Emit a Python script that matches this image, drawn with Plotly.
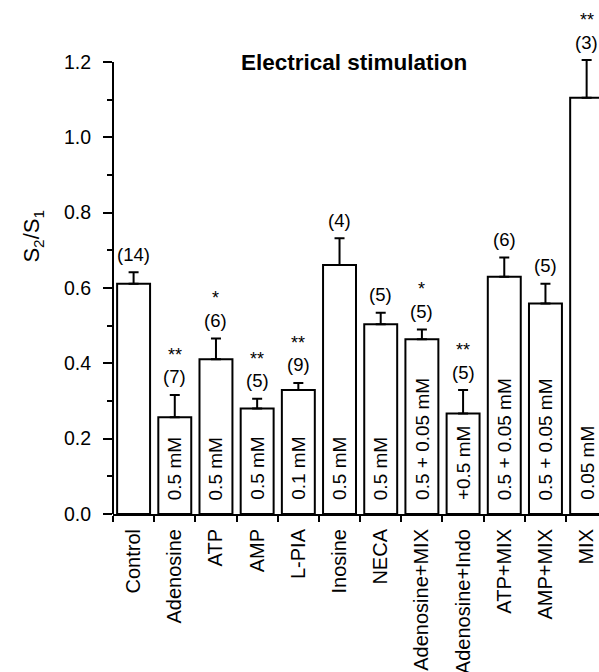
import plotly.graph_objects as go

categories = ["Control", "Adenosine", "ATP", "AMP", "L-PIA", "Inosine", "NECA",
              "Adenosine+MIX", "Adenosine+Indo", "ATP+MIX", "AMP+MIX", "MIX"]
means = [0.611, 0.257, 0.411, 0.280, 0.329, 0.661, 0.504, 0.464, 0.267, 0.630, 0.559, 1.105]
sems = [0.031, 0.059, 0.055, 0.026, 0.019, 0.071, 0.030, 0.026, 0.062, 0.051, 0.052, 0.100]
n_counts = [14, 7, 6, 5, 9, 4, 5, 5, 5, 6, 5, 3]
stars = ["", "**", "*", "**", "**", "", "", "*", "**", "", "", "**"]
doses = ["", "0.5 mM", "0.5 mM", "0.5 mM", "0.1 mM", "0.5 mM", "0.5 mM",
         "0.5 + 0.05 mM", "+0.5 mM", "0.5 + 0.05 mM", "0.5 + 0.05 mM", "0.05 mM"]

FONT = "Liberation Sans, Arial, Helvetica, sans-serif"

fig = go.Figure()
fig.add_trace(go.Bar(
    x=categories, y=means, width=0.8,
    marker=dict(color="white", line=dict(color="black", width=2)),
    error_y=dict(type="data", array=sems, arrayminus=[0] * len(sems), symmetric=False,
                 color="black", thickness=2, width=5),
    showlegend=False,
))

annotations = []
for c, m, s, n, st, d in zip(categories, means, sems, n_counts, stars, doses):
    annotations.append(dict(x=c, y=m + s, xref="x", yref="y", text=f"({n})",
                            showarrow=False, yanchor="middle", yshift=18,
                            font=dict(size=18.5, color="black", family=FONT)))
    if st:
        annotations.append(dict(x=c, y=m + s, xref="x", yref="y", text=st,
                                showarrow=False, yanchor="middle", yshift=40,
                                font=dict(size=18, color="black", family=FONT)))
    if d:
        annotations.append(dict(x=c, y=0, xref="x", yref="y", text=d, textangle=-90,
                                showarrow=False, yanchor="bottom", yshift=12,
                                font=dict(size=19, color="black", family=FONT)))

annotations.append(dict(x=0.496, y=0.9825, xref="paper", yref="paper",
                        text="<b>Electrical stimulation</b>", showarrow=False,
                        xanchor="center", yanchor="middle",
                        font=dict(size=22.5, color="black", family=FONT)))
annotations.append(dict(x=-0.1646, y=0.603, xref="paper", yref="paper",
                        text="S<sub>2</sub>/S<sub>1</sub>", textangle=-90, showarrow=False,
                        xanchor="center", yanchor="middle",
                        font=dict(size=22, color="black", family=FONT)))

fig.update_layout(
    width=599, height=672,
    margin=dict(l=113, r=0, t=54, b=158, autoexpand=False),
    paper_bgcolor="white", plot_bgcolor="white",
    annotations=annotations,
    shapes=[dict(type="line", xref="paper", yref="y", x0=0, x1=0, y0=0, y1=1.2,
                 line=dict(color="black", width=2))],
    xaxis=dict(type="category", range=[-0.5, 11.3], showline=True, linecolor="black",
               linewidth=2, ticks="outside", tickson="boundaries", ticklen=6,
               tickwidth=2, tickcolor="black", tickangle=-90, showgrid=False,
               zeroline=False, ticklabelstandoff=5, automargin=False,
               tickfont=dict(size=20, color="black", family=FONT)),
    yaxis=dict(range=[0, 1.2211], dtick=0.2, tick0=0, tickformat=".1f", showline=False,
               ticks="outside", ticklen=9, tickwidth=2, tickcolor="black",
               showgrid=False, zeroline=False, ticklabelstandoff=8, automargin=False,
               minor=dict(dtick=0.1, ticks="outside", ticklen=5, tickwidth=2,
                          tickcolor="black", showgrid=False),
               tickfont=dict(size=19.5, color="black", family=FONT)),
)

page_fix = ("document.body.style.margin='0';"
            "document.body.style.overflow='hidden';"
            "document.documentElement.style.overflow='hidden';")

fig.write_html("out.html", post_script=page_fix, config={"displayModeBar": False})
